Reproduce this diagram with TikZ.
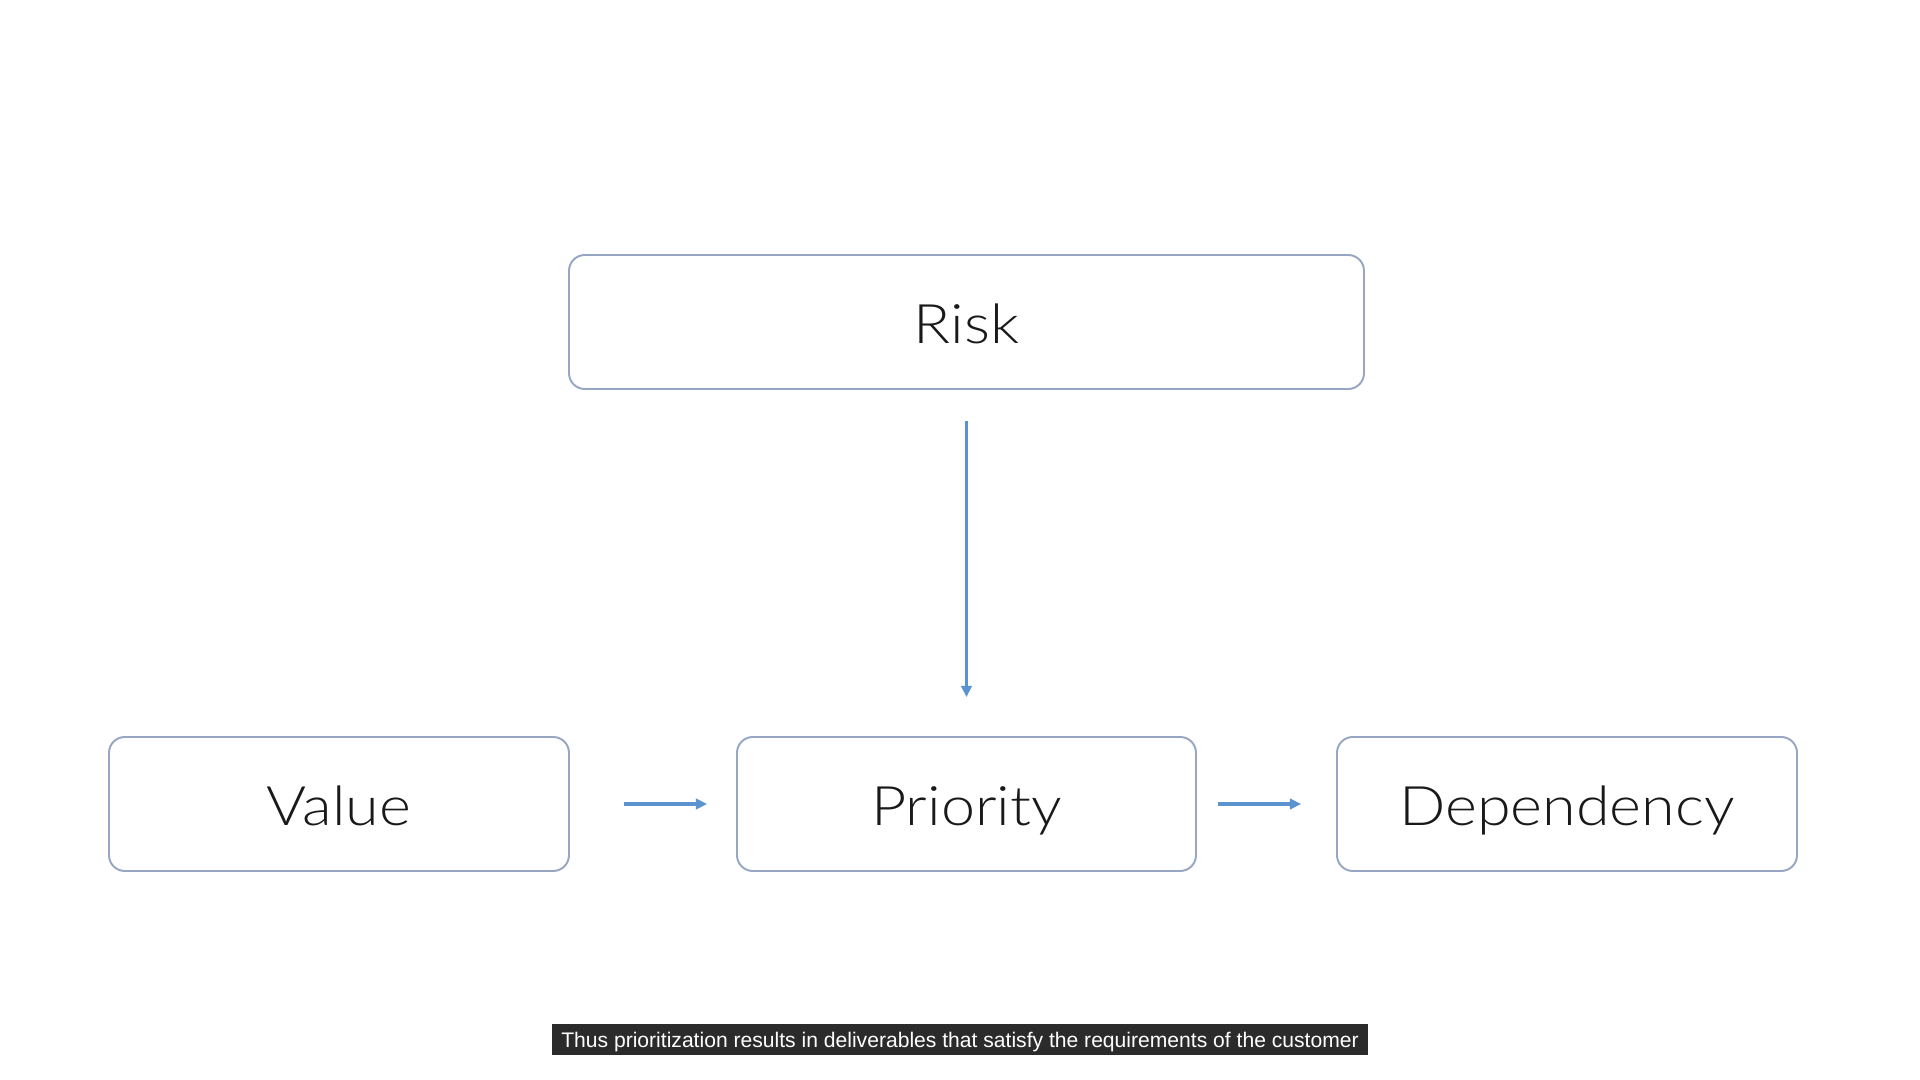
\documentclass[tikz,border=0pt]{standalone}
\usepackage{fontspec}
\IfFontExistsTF{Lato Light}{\setmainfont{Lato Light}[FakeStretch=1.12]}{\setmainfont{Lato}[FakeStretch=1.12]}
\newfontfamily\capfont{Liberation Sans}
\usetikzlibrary{arrows.meta}
\definecolor{boxline}{HTML}{97A6C2}
\definecolor{arrowblue}{HTML}{5A93D0}
\definecolor{capbg}{HTML}{2B2B2B}
\tikzset{
	fattore/.style={draw=boxline, line width=0.55pt, rounded corners=4.5pt, fill=white,
		minimum height=134*0.01cm, text height=13.5pt, text depth=1.5pt,
		font=\fontsize{15.5}{18}\selectfont, text=black!90},
	freccia/.style={draw=arrowblue, line width=1pt, -{Triangle[length=3.2pt, width=3pt]}}
}
\begin{document}
\begin{tikzpicture}[x=0.01cm, y=-0.01cm]
		\useasboundingbox (0,0) rectangle (1920,1080);
		\fill[white] (0,0) rectangle (1920,1080);

		% Fattori
		\node[fattore, minimum width=795*0.01cm] (risk) at (966.5,322) {Risk};
		\node[fattore, minimum width=460*0.01cm] (value) at (339,804) {Value};
		\node[fattore, minimum width=459*0.01cm] (priority) at (966.5,804) {Priority};
		\node[fattore, minimum width=460*0.01cm] (dependency) at (1567,804) {Dependency};

		% Frecce
		\draw[freccia, shorten <=31*0.01cm, shorten >=39*0.01cm] (risk) -- (priority);
		\draw[freccia, shorten <=54*0.01cm, shorten >=29*0.01cm] (value) -- (priority);
		\draw[freccia, shorten <=21*0.01cm, shorten >=35*0.01cm] (priority) -- (dependency);

		% Sottotitolo
		\node[fill=capbg, text=white, minimum height=31*0.01cm, inner xsep=2.6pt, inner ysep=0pt,
			text height=5.4pt, text depth=0.6pt,
			font=\capfont\fontsize{6}{7}\selectfont] (caption) at (960,1039.5)
			{Thus prioritization results in deliverables that satisfy the requirements of the customer};
	\end{tikzpicture}
\end{document}
